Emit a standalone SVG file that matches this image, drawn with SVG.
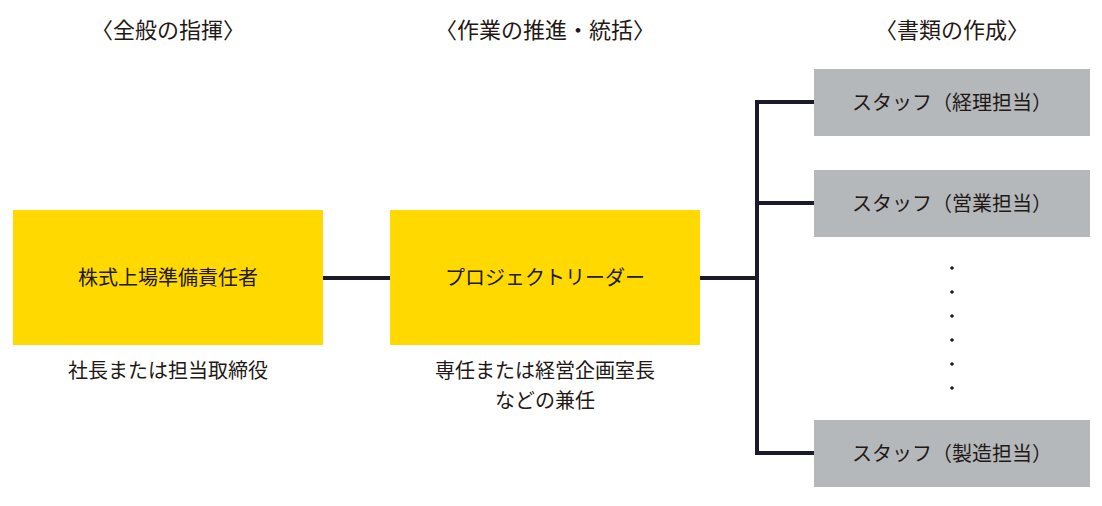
<svg xmlns="http://www.w3.org/2000/svg" width="1102" height="506" viewBox="0 0 1102 506">
<style>
text{font-family:"Noto Sans CJK JP","Noto Sans",sans-serif;fill:#231815;text-anchor:middle}
.h{font-size:22px}
.b{font-size:20px}
.y{fill:#FFD900}
.g{fill:#B5B8BB}
.c{stroke:#1a1a2a;stroke-width:4;fill:none}
</style>
<rect width="1102" height="506" fill="#fff"/>
<text class="h" x="168" y="38">〈全般の指揮〉</text>
<text class="h" x="545" y="38">〈作業の推進・統括〉</text>
<text class="h" x="952" y="38">〈書類の作成〉</text>
<g id="connectors">
<path class="c" d="M323 278H390M700 278H757M757 100V455M757 102H814M757 203H814M757 453H814"/>
</g>
<g id="n1"><rect class="y" x="13" y="210" width="310" height="135"/><text class="b" x="168" y="285">株式上場準備責任者</text>
<text class="b" x="168" y="378">社長または担当取締役</text></g>
<g id="n2"><rect class="y" x="390" y="210" width="310" height="135"/><text class="b" x="545" y="285">プロジェクトリーダー</text>
<text class="b" x="545" y="378">専任または経営企画室長</text><text class="b" x="545" y="408">などの兼任</text></g>
<g id="n3"><rect class="g" x="814" y="69" width="276" height="67"/><text class="b" x="952" y="110">スタッフ（経理担当）</text></g>
<g id="n4"><rect class="g" x="814" y="170" width="276" height="67"/><text class="b" x="952" y="211">スタッフ（営業担当）</text></g>
<g id="n5"><rect class="g" x="814" y="420" width="276" height="67"/><text class="b" x="952" y="461">スタッフ（製造担当）</text></g>
<g id="dots" fill="#231815"><circle cx="952" cy="268" r="1.8"/><circle cx="952" cy="292" r="1.8"/><circle cx="952" cy="316" r="1.8"/><circle cx="952" cy="340" r="1.8"/><circle cx="952" cy="364" r="1.8"/><circle cx="952" cy="388" r="1.8"/></g>
</svg>
